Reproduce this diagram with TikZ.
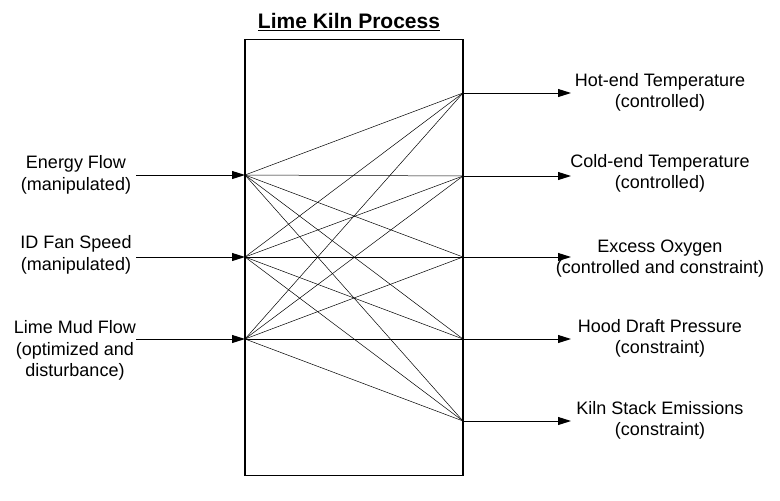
\documentclass[tikz,border=0pt]{standalone}
\usepackage{fontspec}
\setmainfont{Liberation Sans}
\usetikzlibrary{arrows.meta}

\begin{document}
\begin{tikzpicture}[
  x=1pt, y=-1pt,
  kiln/.style={draw, line width=1.3pt, minimum width=218pt, minimum height=436pt, inner sep=0pt},
  label/.style={align=center, font=\fontsize{18}{21.5}\selectfont},
  arrow/.style={-{Triangle[length=13pt,width=8pt]}, line width=0.9pt},
  link/.style={line width=0.5pt}
]
\useasboundingbox (0,0) rectangle (780,501);
\node[font=\fontsize{21}{24}\selectfont\bfseries] (title) at (349,22) {\underline{Lime Kiln Process}};
\node[kiln] (box) at (354,257.5) {};
% inputs on the left edge, outputs on the right edge
\coordinate (in1) at (245,175);
\coordinate (in2) at (245,257);
\coordinate (in3) at (245,339);
\coordinate (out1) at (463,93);
\coordinate (out2) at (463,176);
\coordinate (out3) at (463,257);
\coordinate (out4) at (463,339);
\coordinate (out5) at (463,421);
\coordinate (src1) at (136,175);
\coordinate (src2) at (136,257);
\coordinate (src3) at (136,339);
\coordinate (dst1) at (571,93);
\coordinate (dst2) at (571,176);
\coordinate (dst3) at (571,257);
\coordinate (dst4) at (571,339);
\coordinate (dst5) at (571,421);
\node[label] (energy) at (76,175) {Energy Flow\\(manipulated)};
\node[label] (fan) at (76,255) {ID Fan Speed\\(manipulated)};
\node[label] (mud) at (75,350.5) {Lime Mud Flow\\(optimized and\\disturbance)};
\node[label] (hot) at (660,92.5) {Hot-end Temperature\\(controlled)};
\node[label] (cold) at (660,173.5) {Cold-end Temperature\\(controlled)};
\node[label] (oxygen) at (660,258.5) {Excess Oxygen\\(controlled and constraint)};
\node[label] (draft) at (660,338.5) {Hood Draft Pressure\\(constraint)};
\node[label] (stack) at (660,420.5) {Kiln Stack Emissions\\(constraint)};
\foreach \i in {1,2,3}
  \draw[arrow] (src\i) -- (in\i);
\foreach \j in {1,...,5}
  \draw[arrow] (out\j) -- (dst\j);
% every input reaches every output
\foreach \i in {1,2,3}
  \foreach \j in {1,...,5}
    \draw[link] (in\i) -- (out\j);
\end{tikzpicture}
\end{document}
